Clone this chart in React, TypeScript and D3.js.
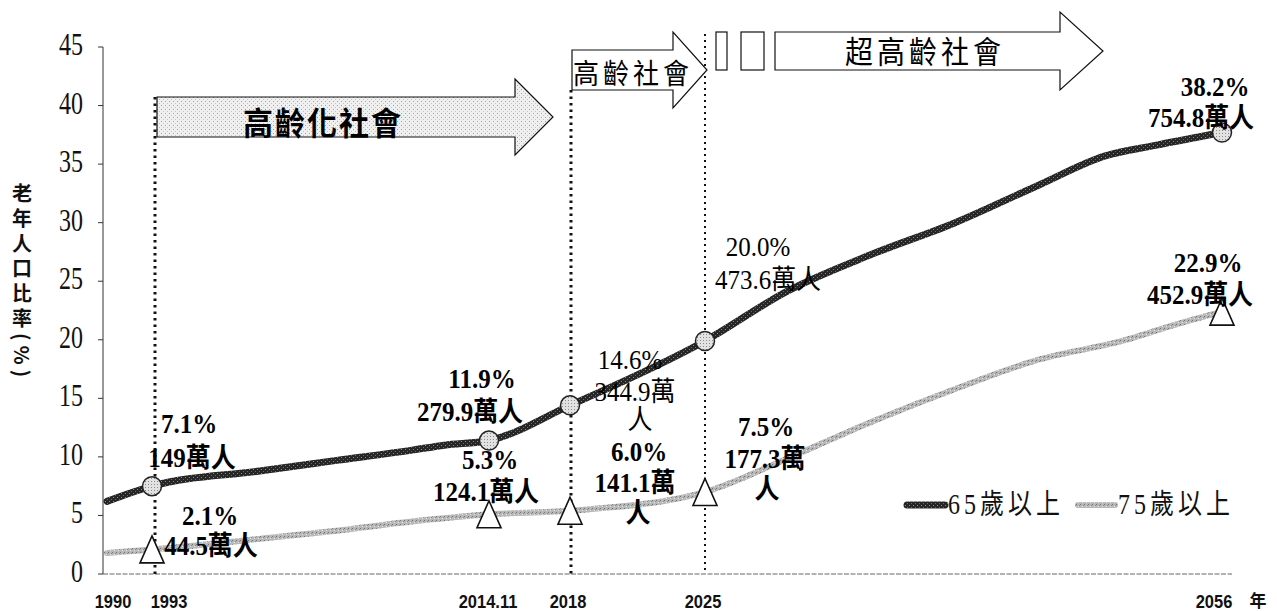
import React from "react";
import * as d3 from "d3";

// ---------- data ----------
const years65 = [1990, 1993, 2000, 2005, 2010, 2012, 2014.9, 2018, 2025, 2030, 2035, 2040, 2045, 2049, 2052, 2056];
const values65 = [6.2, 7.5, 8.8, 9.7, 10.6, 11.0, 11.4, 14.4, 19.9, 24.2, 27.3, 30.0, 33.2, 35.7, 36.6, 37.7];
const years75 = [1990, 1993, 2000, 2005, 2010, 2014.9, 2018, 2025, 2030, 2035, 2040, 2045, 2050, 2053, 2056];
const values75 = [1.8, 2.1, 3.0, 3.7, 4.5, 5.1, 5.4, 7.0, 9.9, 13.0, 15.8, 18.3, 19.9, 21.2, 22.4];

const markerYears = [1993, 2014.9, 2018, 2025, 2056];
const marker65 = [7.5, 11.4, 14.4, 19.9, 37.7];
const marker75 = [2.1, 5.1, 5.4, 7.0, 22.4];

const labels65 = [["7.1%", "149萬人"], ["11.9%", "279.9萬人"], ["14.6%", "344.9萬", "人"], ["20.0%", "473.6萬人"], ["38.2%", "754.8萬人"]];
const labels75 = [["2.1%", "44.5萬人"], ["5.3%", "124.1萬人"], ["6.0%", "141.1萬", "人"], ["7.5%", "177.3萬", "人"], ["22.9%", "452.9萬人"]];

const xTickYears = [1990, 1993, 2014.9, 2018, 2025, 2056];
const xTickLabels = ["1990", "1993", "2014.11", "2018", "2025", "2056"];
const yTicks = [0, 5, 10, 15, 20, 25, 30, 35, 40, 45];

const seriesNames = ["65歲以上", "75歲以上"];
const stageNames = ["高齡化社會", "高齡社會", "超高齡社會"];
const yTitle = "老年人口比率(%)";
const xUnit = "年";

// ---------- layout ----------
const W = 1277;
const H = 611;
const x = d3
  .scaleLinear()
  .domain([1990, 1993, 2014.9, 2018, 2025, 2056])
  .range([107, 152, 489, 570, 705, 1222]);
const y = d3.scaleLinear().domain([0, 45]).range([574, 47]);
const axisX = 103;

// label offsets (dx = center offset, dy = baseline offset) relative to marker point
const lab65Off = [
  [[37, -53], [40, -19]],
  [[-7, -52], [-19, -19]],
  [[60, -36], [65, -4], [70, 24]],
  [[53, -85], [63, -52]],
  [[-7, -36], [-21, -5]],
];
const lab65Bold = [true, true, false, false, true];
const lab75Off = [
  [[58, -24], [59, 6]],
  [[1, -45], [-3, -13]],
  [[69, -50], [65, -19], [68, 11]],
  [[61, -56], [60, -24], [62, 6]],
  [[-14, -40], [-22, -8]],
];
const xLabelDx = [6, 17, -1, -2, -2, -8];

const serif = "'Liberation Serif', 'DejaVu Serif', 'Noto Sans CJK TC', serif";
const sans = "'Liberation Sans', Arial, sans-serif";
const cjk = "'Noto Sans CJK TC', sans-serif";

function arrowPath(x0: number, x1: number, tip: number, yc: number, bodyH: number, headH: number) {
  const bt = yc - bodyH / 2;
  const bb = yc + bodyH / 2;
  return `M${x0},${bt} L${x1},${bt} L${x1},${yc - headH / 2} L${tip},${yc} L${x1},${yc + headH / 2} L${x1},${bb} L${x0},${bb} Z`;
}

function T(props: any) {
  const { x: tx, y: ty, sy = 1.1, children, ...rest } = props;
  return (
    <text transform={`translate(${tx},${ty}) scale(1,${sy})`} {...rest}>
      {children}
    </text>
  );
}

export default function App() {
  const line = d3
    .line<[number, number]>()
    .x((d) => x(d[0]))
    .y((d) => y(d[1]))
    .curve(d3.curveMonotoneX);
  const d65 = line(years65.map((t, i) => [t, values65[i]] as [number, number])) || "";
  const d75 = line(years75.map((t, i) => [t, values75[i]] as [number, number])) || "";

  const tri = (cx: number, cy: number) => {
    const w = 24, h = 27;
    return `M${cx},${cy - h / 2} L${cx + w / 2},${cy + h / 2} L${cx - w / 2},${cy + h / 2} Z`;
  };

  return (
    <svg width={W} height={H} style={{ position: "absolute", left: 0, top: 0, background: "#fff" }}>
      <defs>
        <pattern id="dark" width="4" height="4" patternUnits="userSpaceOnUse">
          <rect width="4" height="4" fill="#262626" />
          <rect x="1" y="1" width="1" height="1" fill="#8a8a8a" />
          <rect x="3" y="3" width="1" height="1" fill="#6a6a6a" />
        </pattern>
        <pattern id="light" width="4" height="4" patternUnits="userSpaceOnUse">
          <rect width="4" height="4" fill="#b8b8b8" />
          <rect x="0" y="0" width="1" height="1" fill="#737373" />
          <rect x="2" y="2" width="1" height="1" fill="#e8e8e8" />
          <rect x="3" y="1" width="1" height="1" fill="#8f8f8f" />
        </pattern>
        <pattern id="stipple" width="4" height="4" patternUnits="userSpaceOnUse">
          <rect width="4" height="4" fill="#f0f0f0" />
          <rect x="1" y="1" width="1" height="1" fill="#a0a0a0" />
          <rect x="3" y="3" width="1" height="1" fill="#c0c0c0" />
        </pattern>
        <pattern id="dot" width="3" height="3" patternUnits="userSpaceOnUse">
          <rect width="3" height="3" fill="#e2e2e2" />
          <rect x="1" y="1" width="1" height="1" fill="#8c8c8c" />
        </pattern>
      </defs>

      {/* y axis */}
      <line x1={axisX} x2={axisX} y1={y(45)} y2={y(0)} stroke="#333" strokeWidth={1} />
      {yTicks.map((t) => (
        <g key={t}>
          <line x1={axisX - 5} x2={axisX} y1={y(t)} y2={y(t)} stroke="#333" strokeWidth={1} />
          <T x={83} y={y(t) + 8} sy={1.3} textAnchor="end" fontFamily={serif} fontSize={24} fill="#111">
            {t}
          </T>
        </g>
      ))}
      {/* x axis */}
      <line x1={axisX} x2={1232} y1={y(0)} y2={y(0)} stroke="#666" strokeWidth={1} strokeDasharray="5 1.5" />
      {xTickYears.map((t, i) => (
        <T key={t} x={x(t) + xLabelDx[i]} y={608} sy={1.1} textAnchor="middle" fontFamily={sans} fontWeight="bold" fontSize={16.5} fill="#111">
          {xTickLabels[i]}
        </T>
      ))}
      <text x={1258} y={607} textAnchor="middle" fontFamily={cjk} fontWeight="bold" fontSize={17} fill="#111">
        {xUnit}
      </text>

      {/* y title */}
      <text
        x={22}
        y={183}
        fontFamily={cjk}
        fontWeight="bold"
        fontSize={20}
        fill="#111"
        style={{ writingMode: "vertical-rl", letterSpacing: "5px" } as any}
      >
        {yTitle}
      </text>

      {/* vertical dotted lines */}
      <line x1={x(1993) + 3} x2={x(1993) + 3} y1={97} y2={y(0)} stroke="#111" strokeWidth={3} strokeDasharray="2.5 4" />
      <line x1={x(2018) + 1} x2={x(2018) + 1} y1={90} y2={y(0)} stroke="#111" strokeWidth={3} strokeDasharray="2.5 4" />
      <line x1={x(2025)} x2={x(2025)} y1={34} y2={y(0)} stroke="#111" strokeWidth={2} strokeDasharray="2 4" />

      {/* stage arrows */}
      <path d={arrowPath(157, 515, 553, 117, 40, 76)} fill="url(#stipple)" stroke="#111" strokeWidth={1.2} />
      <T x={323} y={135} sy={1.05} textAnchor="middle" fontFamily={cjk} fontWeight="bold" fontSize={30} fill="#000" style={{ letterSpacing: "2px" }}>
        {stageNames[0]}
      </T>
      <path d={arrowPath(572, 673, 707, 70, 40, 76)} fill="#fff" stroke="#111" strokeWidth={1.2} />
      <T x={573} y={84} sy={1.1} fontFamily={cjk} fontSize={26} fill="#000" style={{ letterSpacing: "4px" }}>
        {stageNames[1]}
      </T>
      <rect x={716} y={32} width={11} height={38} fill="#fff" stroke="#111" strokeWidth={1.2} />
      <rect x={741} y={32} width={23} height={38} fill="#fff" stroke="#111" strokeWidth={1.2} />
      <path d={arrowPath(775, 1060, 1103, 51, 38, 78)} fill="#fff" stroke="#111" strokeWidth={1.2} />
      <T x={925} y={63} sy={1.1} textAnchor="middle" fontFamily={cjk} fontSize={28} fill="#000" style={{ letterSpacing: "4px" }}>
        {stageNames[2]}
      </T>

      {/* series lines */}
      <path d={d75} fill="none" stroke="url(#light)" strokeWidth={6} strokeLinecap="round" />
      <path d={d65} fill="none" stroke="url(#dark)" strokeWidth={7} strokeLinecap="round" />

      {/* markers */}
      {markerYears.map((t, i) => (
        <circle key={"c" + t} cx={x(t)} cy={y(marker65[i])} r={9.5} fill="url(#dot)" stroke="#222" strokeWidth={1.5} />
      ))}
      {markerYears.map((t, i) => (
        <path key={"t" + t} d={tri(x(t), y(marker75[i]))} fill="#fff" stroke="#111" strokeWidth={1.6} />
      ))}

      {/* annotations */}
      {markerYears.map((t, i) =>
        labels65[i].map((s, j) => (
          <T
            key={"a" + i + j}
            x={x(t) + lab65Off[i][j][0]}
            y={y(marker65[i]) + lab65Off[i][j][1]}
            sy={1.1}
            textAnchor="middle"
            fontFamily={serif}
            fontWeight={lab65Bold[i] ? "bold" : "normal"}
            fontSize={25}
            fill="#000"
          >
            {s}
          </T>
        ))
      )}
      {markerYears.map((t, i) =>
        labels75[i].map((s, j) => (
          <T
            key={"b" + i + j}
            x={x(t) + lab75Off[i][j][0]}
            y={y(marker75[i]) + lab75Off[i][j][1]}
            sy={1.1}
            textAnchor="middle"
            fontFamily={serif}
            fontWeight="bold"
            fontSize={25}
            fill="#000"
          >
            {s}
          </T>
        ))
      )}

      {/* legend */}
      <line x1={907} x2={945} y1={505} y2={505} stroke="url(#dark)" strokeWidth={7} strokeLinecap="round" />
      <T x={948} y={514} sy={1.2} fontFamily={serif} fontSize={24} fill="#111" style={{ letterSpacing: "4px" }}>
        {seriesNames[0]}
      </T>
      <line x1={1078} x2={1115} y1={505} y2={505} stroke="url(#light)" strokeWidth={6} strokeLinecap="round" />
      <T x={1118} y={514} sy={1.2} fontFamily={serif} fontSize={24} fill="#111" style={{ letterSpacing: "4px" }}>
        {seriesNames[1]}
      </T>
    </svg>
  );
}
